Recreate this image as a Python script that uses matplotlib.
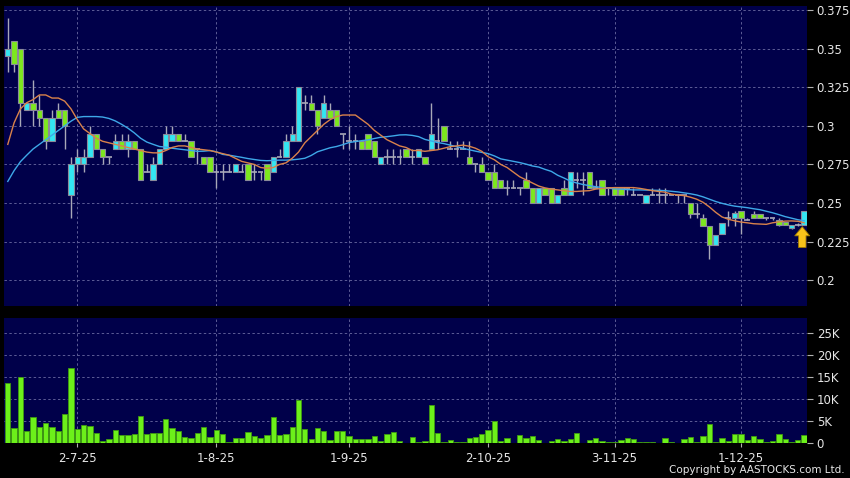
import numpy as np
import matplotlib
matplotlib.use("Agg")
import matplotlib.pyplot as plt

# daily candles, oldest first (open, high, low, close)
opens = [0.345, 0.355, 0.35, 0.31, 0.315, 0.31, 0.305, 0.29, 0.31, 0.31,
         0.255, 0.275, 0.275, 0.28, 0.295, 0.285, 0.28, 0.285, 0.29, 0.285,
         0.29, 0.285, 0.27, 0.265, 0.275, 0.285, 0.29, 0.295, 0.29, 0.29,
         0.285, 0.28, 0.28, 0.27, 0.27, 0.27, 0.27, 0.27, 0.275, 0.27,
         0.27, 0.275, 0.27, 0.28, 0.28, 0.29, 0.29, 0.315, 0.315, 0.31,
         0.305, 0.31, 0.31, 0.295, 0.29, 0.29, 0.29, 0.295, 0.29, 0.275,
         0.28, 0.28, 0.28, 0.285, 0.28, 0.28, 0.28, 0.285, 0.29, 0.30,
         0.285, 0.285, 0.285, 0.28, 0.275, 0.275, 0.27, 0.27, 0.265, 0.26,
         0.26, 0.26, 0.265, 0.26, 0.25, 0.26, 0.26, 0.25, 0.26, 0.255,
         0.265, 0.265, 0.27, 0.26, 0.265, 0.26, 0.26, 0.26, 0.26, 0.255,
         0.255, 0.25, 0.255, 0.255, 0.255, 0.255, 0.255, 0.255, 0.25, 0.243,
         0.24, 0.235, 0.223, 0.230, 0.24, 0.240, 0.245, 0.239, 0.243, 0.243,
         0.24, 0.24, 0.239, 0.238, 0.234, 0.236, 0.2355]
highs = [0.37, 0.355, 0.35, 0.315, 0.33, 0.32, 0.305, 0.31, 0.315, 0.31,
         0.28, 0.285, 0.285, 0.30, 0.295, 0.285, 0.28, 0.295, 0.295, 0.295,
         0.29, 0.285, 0.275, 0.28, 0.285, 0.30, 0.30, 0.295, 0.295, 0.29,
         0.285, 0.28, 0.28, 0.275, 0.275, 0.275, 0.275, 0.275, 0.275, 0.275,
         0.27, 0.275, 0.28, 0.285, 0.295, 0.30, 0.325, 0.32, 0.32, 0.31,
         0.32, 0.315, 0.31, 0.295, 0.30, 0.295, 0.29, 0.295, 0.29, 0.28,
         0.285, 0.285, 0.285, 0.285, 0.285, 0.285, 0.28, 0.315, 0.305, 0.30,
         0.29, 0.29, 0.29, 0.29, 0.275, 0.28, 0.27, 0.275, 0.265, 0.265,
         0.265, 0.26, 0.27, 0.26, 0.26, 0.26, 0.26, 0.255, 0.265, 0.27,
         0.27, 0.27, 0.27, 0.265, 0.265, 0.26, 0.26, 0.26, 0.26, 0.26,
         0.255, 0.255, 0.26, 0.26, 0.26, 0.255, 0.255, 0.255, 0.25, 0.25,
         0.243, 0.235, 0.229, 0.237, 0.245, 0.245, 0.245, 0.24, 0.245, 0.243,
         0.24, 0.24, 0.24, 0.238, 0.236, 0.237, 0.245]
lows = [0.335, 0.335, 0.30, 0.31, 0.30, 0.30, 0.285, 0.29, 0.305, 0.285,
        0.24, 0.27, 0.27, 0.28, 0.285, 0.275, 0.275, 0.285, 0.285, 0.28,
        0.285, 0.265, 0.27, 0.265, 0.275, 0.285, 0.29, 0.29, 0.29, 0.28,
        0.275, 0.275, 0.27, 0.26, 0.265, 0.27, 0.27, 0.27, 0.265, 0.265,
        0.265, 0.265, 0.27, 0.28, 0.28, 0.29, 0.29, 0.31, 0.31, 0.295,
        0.305, 0.305, 0.30, 0.285, 0.285, 0.285, 0.285, 0.285, 0.28, 0.275,
        0.275, 0.275, 0.275, 0.28, 0.275, 0.28, 0.275, 0.285, 0.285, 0.29,
        0.285, 0.28, 0.285, 0.275, 0.27, 0.27, 0.265, 0.26, 0.26, 0.255,
        0.26, 0.255, 0.26, 0.25, 0.25, 0.255, 0.25, 0.25, 0.255, 0.255,
        0.26, 0.255, 0.26, 0.26, 0.255, 0.255, 0.255, 0.255, 0.255, 0.255,
        0.255, 0.25, 0.255, 0.25, 0.25, 0.255, 0.25, 0.25, 0.24, 0.24,
        0.235, 0.214, 0.223, 0.230, 0.235, 0.235, 0.23, 0.239, 0.24, 0.24,
        0.239, 0.239, 0.235, 0.236, 0.233, 0.235, 0.2355]
closes = [0.35, 0.34, 0.315, 0.315, 0.31, 0.305, 0.29, 0.305, 0.305, 0.30,
          0.275, 0.28, 0.28, 0.295, 0.285, 0.28, 0.28, 0.29, 0.285, 0.29,
          0.285, 0.265, 0.27, 0.275, 0.285, 0.295, 0.295, 0.29, 0.29, 0.28,
          0.285, 0.275, 0.27, 0.27, 0.27, 0.27, 0.275, 0.27, 0.265, 0.27,
          0.27, 0.265, 0.28, 0.28, 0.29, 0.295, 0.325, 0.315, 0.31, 0.30,
          0.315, 0.305, 0.30, 0.295, 0.29, 0.29, 0.285, 0.285, 0.28, 0.28,
          0.28, 0.28, 0.28, 0.28, 0.28, 0.285, 0.275, 0.295, 0.29, 0.29,
          0.285, 0.285, 0.285, 0.275, 0.275, 0.27, 0.265, 0.26, 0.26, 0.26,
          0.26, 0.26, 0.26, 0.25, 0.26, 0.255, 0.25, 0.255, 0.255, 0.27,
          0.265, 0.265, 0.26, 0.26, 0.255, 0.26, 0.255, 0.255, 0.26, 0.255,
          0.255, 0.255, 0.255, 0.255, 0.255, 0.255, 0.255, 0.255, 0.243, 0.243,
          0.235, 0.223, 0.229, 0.237, 0.24, 0.2435, 0.24, 0.239, 0.24, 0.24,
          0.24, 0.24, 0.236, 0.236, 0.236, 0.236, 0.245]
# daily volume (shares)
volumes = [13600, 3400, 15100, 2700, 6000, 3700, 4700, 3600, 2800, 6600,
           17100, 3300, 4200, 3900, 2300, 500, 1000, 3000, 1900, 1800,
           2100, 6100, 2000, 2300, 2400, 5500, 3400, 2700, 1400, 1300,
           2300, 3600, 1400, 3100, 2100, 300, 1200, 1100, 2500, 1700,
           1100, 1900, 5900, 1900, 2000, 3600, 9800, 3300, 1000, 3500,
           2700, 800, 2800, 2700, 1700, 1000, 900, 1000, 1600, 600,
           2000, 2500, 600, 100, 1400, 200, 600, 8700, 2400, 300,
           700, 300, 300, 1200, 1500, 2100, 3100, 5100, 500, 1300,
           150, 1800, 1300, 1700, 800, 150, 600, 900, 600, 900,
           2300, 150, 800, 1200, 500, 300, 300, 800, 1200, 900,
           300, 300, 300, 100, 1200, 300, 100, 1000, 1400, 400,
           1600, 4400, 400, 1200, 500, 2000, 2000, 700, 1700, 900,
           300, 500, 2100, 1000, 300, 800, 1900]
# moving averages as drawn on the chart
ma_short = [0.288, 0.302, 0.311, 0.315, 0.317, 0.320, 0.320, 0.318, 0.318, 0.316,
            0.311, 0.304, 0.298, 0.295, 0.292, 0.290, 0.289, 0.288, 0.287, 0.286,
            0.285, 0.284, 0.283, 0.2825, 0.2825, 0.284, 0.286, 0.287, 0.287, 0.286,
            0.285, 0.2845, 0.284, 0.283, 0.282, 0.281, 0.279, 0.277, 0.276, 0.275,
            0.273, 0.2725, 0.273, 0.275, 0.276, 0.279, 0.283, 0.289, 0.293, 0.297,
            0.301, 0.304, 0.306, 0.307, 0.307, 0.307, 0.304, 0.301, 0.297, 0.294,
            0.291, 0.289, 0.287, 0.286, 0.284, 0.284, 0.2835, 0.284, 0.2845, 0.2855,
            0.2865, 0.287, 0.2875, 0.2868, 0.2855, 0.2835, 0.280, 0.278, 0.275, 0.273,
            0.270, 0.267, 0.265, 0.263, 0.261, 0.2598, 0.259, 0.2585, 0.258, 0.2575,
            0.2575, 0.2578, 0.258, 0.259, 0.2595, 0.2598, 0.260, 0.260, 0.260, 0.260,
            0.2595, 0.2588, 0.258, 0.2575, 0.257, 0.2558, 0.2552, 0.2548, 0.2538, 0.2525,
            0.2505, 0.2475, 0.2440, 0.2410, 0.2395, 0.2385, 0.2377, 0.2372, 0.2366, 0.2364,
            0.2362, 0.2372, 0.2378, 0.2383, 0.2384, 0.2382, 0.2372]
ma_long = [0.264, 0.271, 0.2768, 0.281, 0.285, 0.288, 0.291, 0.294, 0.297, 0.300,
           0.303, 0.3055, 0.306, 0.306, 0.306, 0.3057, 0.3048, 0.3032, 0.301, 0.2985,
           0.2955, 0.292, 0.2895, 0.288, 0.2866, 0.2862, 0.2855, 0.285, 0.2845, 0.284,
           0.2835, 0.2836, 0.284, 0.2832, 0.2815, 0.281, 0.2803, 0.2796, 0.2788, 0.2782,
           0.2776, 0.2774, 0.2776, 0.2778, 0.2778, 0.278, 0.2784, 0.279, 0.2808, 0.2832,
           0.2845, 0.2858, 0.2866, 0.2878, 0.2892, 0.2898, 0.2904, 0.2909, 0.2918, 0.2926,
           0.293, 0.2935, 0.2941, 0.2942, 0.2938, 0.293, 0.2912, 0.2902, 0.2892, 0.2885,
           0.2875, 0.2865, 0.2855, 0.2845, 0.2836, 0.2828, 0.282, 0.2805, 0.2786, 0.2778,
           0.277, 0.2762, 0.2752, 0.274, 0.2733, 0.2718, 0.2705, 0.268, 0.2662, 0.2642,
           0.263, 0.262, 0.2613, 0.2606, 0.260, 0.2596, 0.2592, 0.259, 0.2587, 0.2585,
           0.2585, 0.2584, 0.2583, 0.2582, 0.258, 0.2576, 0.2572, 0.2566, 0.256, 0.2552,
           0.254, 0.2525, 0.251, 0.2498, 0.2488, 0.248, 0.2475, 0.247, 0.2463, 0.2457,
           0.2447, 0.2437, 0.2425, 0.2412, 0.2402, 0.2392, 0.2385]

date_ticks = [11, 33, 54, 76, 96, 116]
date_labels = ["2-7-25", "1-8-25", "1-9-25", "2-10-25", "3-11-25", "1-12-25"]
price_ticks = [0.2, 0.225, 0.25, 0.275, 0.3, 0.325, 0.35, 0.375]
price_labels = ["0.2", "0.225", "0.25", "0.275", "0.3", "0.325", "0.35", "0.375"]
vol_ticks = [0, 5000, 10000, 15000, 20000, 25000]
vol_labels = ["0", "5K", "10K", "15K", "20K", "25K"]

o = np.array(opens)
h = np.array(highs)
l = np.array(lows)
c = np.array(closes)
v = np.array(volumes)
x = np.arange(len(o))

bg = "#00004a"
up_col = "#33e6f2"
down_col = "#7de81e"
txt = "#e6e6e6"
grid_col = "#5c5c96"

fig = plt.figure(figsize=(8.5, 4.78), dpi=100, facecolor="black")
ax = fig.add_axes([0.0047, 0.3598, 0.9447, 0.6276])
axv = fig.add_axes([0.0047, 0.0726, 0.9447, 0.2615])

for a in (ax, axv):
    a.set_facecolor(bg)
    for s in a.spines.values():
        s.set_visible(False)
    a.yaxis.tick_right()
    a.tick_params(axis="y", colors="#b0b0b0", labelcolor=txt, length=4,
                  width=0.8, pad=3, labelsize=8.5)
    a.set_xticks(date_ticks)
    a.grid(True, color=grid_col, linestyle=(0, (2.5, 2.5)), linewidth=0.7)
    a.set_axisbelow(True)
    a.set_xlim(-0.6, 126.45)

# price panel
ax.set_ylim(0.1833, 0.3776)
ax.set_yticks(price_ticks)
ax.set_yticklabels(price_labels)
ax.tick_params(axis="x", length=0, labelbottom=False)

ax.vlines(x, l, h, color="#a8a8b8", linewidth=1.0, zorder=2)
up = c > o
down = c < o
flat = c == o
ax.bar(x[up], (c - o)[up], bottom=o[up], width=0.84, color=up_col,
       edgecolor="#8a8a9a", linewidth=0.8, zorder=3)
ax.bar(x[down], (o - c)[down], bottom=c[down], width=0.84, color=down_col,
       edgecolor="#8a8a9a", linewidth=0.8, zorder=3)
ax.hlines(c[flat], x[flat] - 0.45, x[flat] + 0.45, color="#a8a8b8",
          linewidth=1.2, zorder=3)

ax.plot(x, ma_long, color="#3ea8e8", linewidth=1.0, zorder=4)
ax.plot(x, ma_short, color="#d9824a", linewidth=1.0, zorder=4)

# signal arrow under the last candle
ax.annotate("", xy=(x[-1] - 0.3, l[-1] - 0.0008), xytext=(0, -15),
            textcoords="offset points",
            arrowprops=dict(arrowstyle="simple,head_width=0.9,head_length=0.55,tail_width=0.45",
                            mutation_scale=12, shrinkA=0, shrinkB=0,
                            fc="#f7c21a", ec="#a07800", lw=0.6),
            zorder=5)

# volume panel
axv.set_ylim(0, 28400)
axv.set_yticks(vol_ticks)
axv.set_yticklabels(vol_labels)
axv.bar(x, v, width=0.84, color="#6cf01a", edgecolor="#3f9a10",
        linewidth=0.6, zorder=3)
axv.set_xticklabels(date_labels)
axv.tick_params(axis="x", colors="#b0b0b0", labelcolor=txt, length=3,
                width=0.8, pad=3, labelsize=8.5)

fig.text(0.994, 0.006, "Copyright by AASTOCKS.com Ltd.", color=txt,
         fontsize=7.5, ha="right", va="bottom")

fig.savefig("out.png", dpi=100, facecolor="black")
